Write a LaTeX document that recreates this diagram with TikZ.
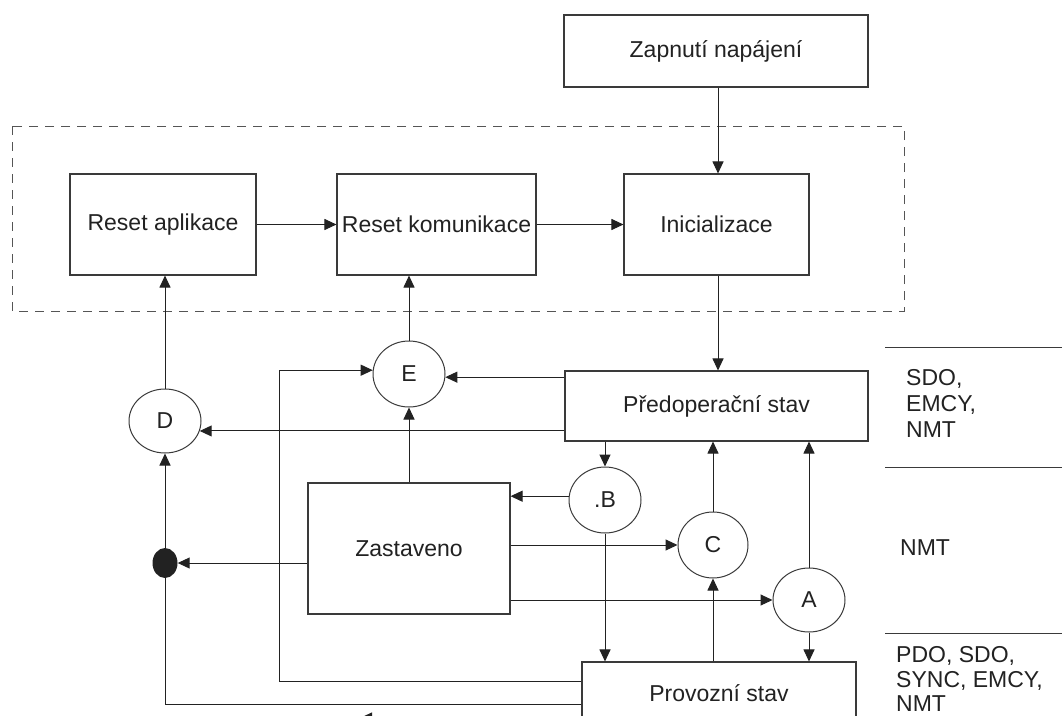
\documentclass[tikz,border=0pt]{standalone}
\usepackage{fontspec}
\setmainfont{Liberation Sans}
\usetikzlibrary{arrows.meta,shapes.geometric}
\definecolor{ink}{HTML}{222222}
\definecolor{frame}{HTML}{3A3A3A}
\definecolor{dashc}{HTML}{555555}

\begin{document}
\begin{tikzpicture}[x=1pt,y=-1pt,
  every node/.style={font=\fontsize{23}{27}\selectfont, text=ink},
  statebox/.style={draw=frame, line width=1.1pt, inner sep=0pt, rectangle},
  cond/.style={draw=frame, line width=1pt, ellipse, inner sep=0pt},
  arr/.style={draw=ink, line width=1pt, -{Triangle[length=12pt,width=11pt]}},
  wire/.style={draw=ink, line width=1pt},
  lab/.style={anchor=base west, inner sep=0pt},
]
% canvas
\fill[white] (0,0) rectangle (1062,715);
\useasboundingbox (0,0) rectangle (1062,715);
\clip (0,0) rectangle (1062,715);

% initialisation group frame
\draw[dashc, dash pattern=on 9pt off 7pt, line width=1pt] (12,126) rectangle (904,311);

% states
\node[statebox, minimum width=304pt, minimum height=72pt] (zap) at (716,51) {Zapnutí napájení};
\node[statebox, minimum width=186pt, minimum height=101pt] (ra) at (163,224.5) {Reset aplikace};
\node[statebox, minimum width=199pt, minimum height=101pt] (rk) at (436.5,224.5) {Reset komunikace};
\node[statebox, minimum width=185pt, minimum height=101pt] (ini) at (716.5,224.5) {Inicializace};
\node[statebox, minimum width=303pt, minimum height=70pt] (pre) at (716.5,406) {Předoperační stav};
\node[statebox, minimum width=202pt, minimum height=131pt] (zas) at (409,548.5) {Zastaveno};
\node[statebox, minimum width=274pt, minimum height=62pt] (pro) at (719,693) {Provozní stav};

% transitions
\node[cond, minimum width=72pt, minimum height=66pt] (E) at (409,374) {E};
\node[cond, minimum width=72pt, minimum height=64pt] (D) at (165,421) {D};
\node[cond, minimum width=72pt, minimum height=66pt] (B) at (605,500) {.B};
\node[cond, minimum width=70pt, minimum height=66pt] (C) at (713,545) {C};
\node[cond, minimum width=72pt, minimum height=64pt] (A) at (809,600) {A};
\node[ellipse, fill=ink, minimum width=25pt, minimum height=30pt, inner sep=0pt] (dot) at (165,563) {};

% connectors
\draw[arr] (zap.south -| 718,0) -- (ini.north -| 718,0);
\draw[arr] (ra.east) -- (rk.west);
\draw[arr] (rk.east) -- (ini.west);
\draw[arr] (ini.south -| 718,0) -- (pre.north -| 718,0);
\draw[arr] (pre.west |- E.-5) -- (E.-5);
\draw[arr] (pre.west |- D.-16) -- (D.-16);
\draw[arr] (pre.south -| B.north) -- (B.north);
\draw[arr] (B.174) -- (B.174 -| zas.east);
\draw[arr] (B.south) -- (B.south |- pro.north);
\draw[arr] (C.north) -- (C.north |- pre.south);
\draw[arr] (pro.north -| C.south) -- (C.south);
\draw[arr] (A.north) -- (A.north |- pre.south);
\draw[arr] (A.south) -- (A.south |- pro.north);
\draw[arr] (zas.east |- C.west) -- (C.west);
\draw[arr] (zas.east |- A.west) -- (A.west);
\draw[arr] (zas.north -| E.south) -- (E.south);
\draw[arr] (E.north) -- (E.north |- rk.south);
\draw[arr] (D.north) -- (D.north |- ra.south);
\draw[arr] (zas.west |- dot.east) -- (dot.east);
\draw[arr] (dot.north) -- (D.south);
\coordinate (loopE) at (279,681);
\draw[arr] (pro.west |- loopE) -- (loopE) |- (E.174);
\coordinate (loopD) at (165,704);
\draw[wire] (pro.west |- loopD) -- (loopD) -- (dot.south);
\coordinate (lowtip) at (360,718);
\draw[arr] (pro.west |- lowtip) -- (lowtip);

% service table on the right
\draw[wire, draw=frame] (885,347) -- (1062,347);
\draw[wire, draw=frame] (885,467) -- (1062,467);
\draw[wire, draw=frame] (885,633) -- (1062,633);
\node[lab] (p1) at (906,385) {SDO,};
\node[lab] (p2) at (906,411) {EMCY,};
\node[lab] (p3) at (906,437) {NMT};
\node[lab] (s1) at (900,555) {NMT};
\node[lab] (o1) at (896,662) {PDO, SDO,};
\node[lab] (o2) at (896,687) {SYNC, EMCY,};
\node[lab] (o3) at (896,711) {NMT};
\end{tikzpicture}
\end{document}
